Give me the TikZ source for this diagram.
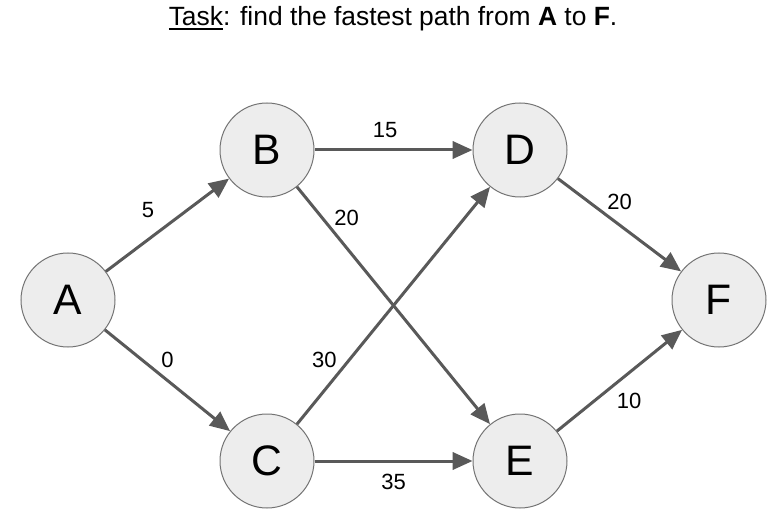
\documentclass[tikz,border=0pt]{standalone}
\usepackage{fontspec}
\setmainfont{Liberation Sans}
\usetikzlibrary{arrows.meta}
\definecolor{edgegray}{HTML}{595959}
\newcommand{\taskul}[1]{\vtop{\hbox{#1}\kern1.6pt\hrule height 1.4pt}}
\begin{document}
\begin{tikzpicture}[
        x=0.75pt, y=-0.75pt,
        vertex/.style = {circle, draw=black!55, fill=black!7, line width=0.75pt, minimum size=70.5pt, inner sep=0pt, font=\fontsize{32}{38}\selectfont},
        edge/.style = {draw=edgegray, line width=2.25pt, -{Triangle[length=15pt, width=13pt]}},
        weight/.style = {inner sep=0pt, font=\fontsize{16.5}{19}\selectfont}
    ]
        \useasboundingbox (0,0) rectangle (782,524);
        \node[font=\fontsize{19.8}{23}\selectfont] (title) at (393,19) {\taskul{Task}: find the fastest path from \textbf{A} to \textbf{F}.};
        \node[vertex] (A) at (68,300) {A};
        \node[vertex] (B) at (267,150) {B};
        \node[vertex] (C) at (267,461) {C};
        \node[vertex] (D) at (520,150) {D};
        \node[vertex] (E) at (520,461) {E};
        \node[vertex] (F) at (719,300) {F};
        \draw[edge] (A) -- node[weight, shift={(-19.5,-15)}] {5} (B);
        \draw[edge] (A) -- node[weight, shift={(0,-20.5)}] {0} (C);
        \draw[edge] (B) -- node[weight, shift={(-8.5,-20)}] {15} (D);
        \draw[edge] (B) -- node[weight, pos=0.18, shift={(15,-12)}] {20} (E);
        \draw[edge] (C) -- node[weight, pos=0.22, shift={(-15,-12)}] {30} (D);
        \draw[edge] (C) -- node[weight, shift={(0,21)}] {35} (E);
        \draw[edge] (D) -- node[weight, shift={(0,-23)}] {20} (F);
        \draw[edge] (E) -- node[weight, shift={(9.5,20.5)}] {10} (F);
    \end{tikzpicture}
\end{document}
